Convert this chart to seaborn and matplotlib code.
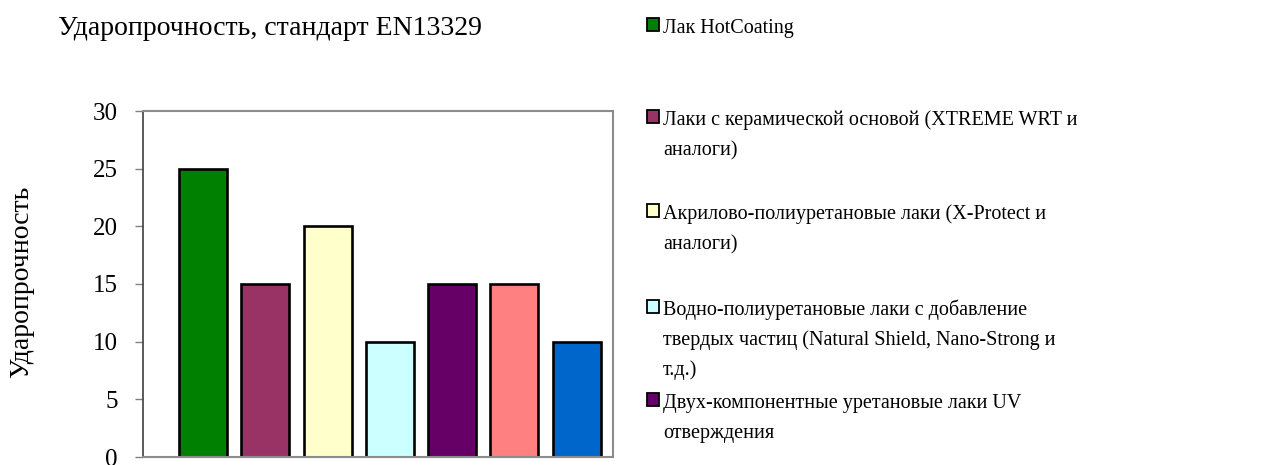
import matplotlib
matplotlib.use("Agg")
import matplotlib.pyplot as plt
from matplotlib.patches import Rectangle
import seaborn as sns
import pandas as pd

# ---- data ----
series_names = [
    "Лак HotCoating",
    "Лаки с керамической основой (XTREME WRT и аналоги)",
    "Акрилово-полиуретановые лаки (X-Protect и аналоги)",
    "Водно-полиуретановые лаки с добавление твердых частиц (Natural Shield, Nano-Strong и т.д.)",
    "Двух-компонентные уретановые лаки UV отверждения",
    "Серия 6",
    "Серия 7",
]
values = [25, 15, 20, 10, 15, 15, 10]
colors = ["#008000", "#993366", "#FFFFCC", "#CCFFFF", "#660066", "#FF8080", "#0066CC"]
legend_lines = [
    ["Лак HotCoating"],
    ["Лаки с керамической основой (XTREME WRT и", "аналоги)"],
    ["Акрилово-полиуретановые лаки (X-Protect и", "аналоги)"],
    ["Водно-полиуретановые лаки с добавление", "твердых частиц (Natural Shield, Nano-Strong и", "т.д.)"],
    ["Двух-компонентные уретановые лаки UV", "отверждения"],
]
yticks = [0, 5, 10, 15, 20, 25, 30]
title = "Ударопрочность, стандарт EN13329"
ylabel = "Ударопрочность"

sns.set_theme(style="white")
FONT = ["Liberation Serif", "DejaVu Serif"]
plt.rcParams["font.family"] = FONT
plt.rcParams["text.color"] = "black"

W, H = 1284, 465
fig = plt.figure(figsize=(W / 100, H / 100), dpi=100)
ax = fig.add_axes([143 / W, 1 - 457 / H, (613 - 143) / W, (457 - 111) / H])

df = pd.DataFrame({"series": series_names, "value": values})
sns.barplot(data=df, x="series", y="value", hue="series", palette=colors,
            saturation=1, edgecolor="black", linewidth=1.9, width=0.77,
            legend=False, ax=ax)

ax.set_xlim(-0.963, 6.583)
ax.set_ylim(0, 30)
ax.set_yticks(yticks)
ax.set_yticklabels([str(t) for t in yticks], fontsize=18, color="black")
ax.set_xticks([])
ax.set_xlabel("")
ax.set_ylabel(ylabel, fontsize=20, color="black")
ax.yaxis.set_label_coords(-0.232, 0.505)
ax.tick_params(axis="y", left=True, length=6, width=1, color="#808080", pad=12)
for side in ["top", "right", "bottom"]:
    ax.spines[side].set_color("#8C8C8C")
    ax.spines[side].set_linewidth(1.5)
ax.spines["left"].set_color("#404040")
ax.spines["left"].set_linewidth(1.2)
ax.set_facecolor("white")
ax.grid(False)

fig.text(58 / W, 1 - 35 / H, title, fontsize=20, va="baseline", ha="left",
         color="black")

# legend (manual, Excel-like layout)
first_baselines = [33, 125, 219, 315, 408]
line_gap = 30
for i, lines in enumerate(legend_lines):
    b = first_baselines[i]
    fig.add_artist(Rectangle((647 / W, 1 - (b - 2) / H), 12 / W, 13 / H,
                             transform=fig.transFigure, facecolor=colors[i],
                             edgecolor="black", linewidth=1.3))
    for j, ln in enumerate(lines):
        fig.text(663 / W, 1 - (b + j * line_gap) / H, ln, fontsize=14.5,
                 va="baseline", ha="left", color="black")

fig.savefig("out.png", dpi=100, facecolor="white")
